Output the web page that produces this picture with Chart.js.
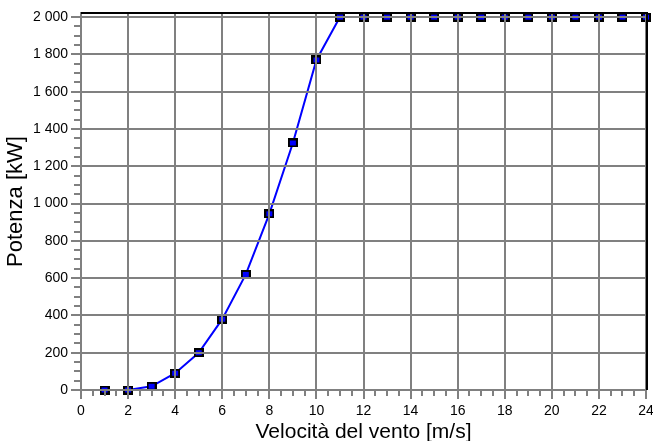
<!DOCTYPE html>
<html>
<head>
<meta charset="utf-8">
<script src="https://cdn.jsdelivr.net/npm/chart.js@4.4.1/dist/chart.umd.min.js"></script>
<style>
  html, body { margin: 0; padding: 0; background: #fff; overflow: hidden; }
  #wrap { position: relative; width: 653px; height: 441px; }
</style>
</head>
<body>
<div id="wrap"><canvas id="c"></canvas></div>
<script>
// Wind turbine power curve: output power versus wind speed
const windSpeed = [1, 2, 3, 4, 5, 6, 7, 8, 9, 10, 11, 12, 13, 14, 15, 16, 17, 18, 19, 20, 21, 22, 23, 24];
const powerKW   = [0, 0, 20, 90, 200, 380, 620, 945, 1325, 1770, 2000, 2000, 2000, 2000, 2000, 2000, 2000, 2000, 2000, 2000, 2000, 2000, 2000, 2000];

const X_MIN = 0, X_MAX = 24, X_STEP = 0.5, X_LABEL_EVERY = 2;
const Y_MIN = 0, Y_MAX = 2022, Y_STEP = 50, Y_LABEL_EVERY = 200;

const GRID = '#808080';
const FONT = '"Liberation Sans", Arial, sans-serif';

// square marker: black frame with a blue core
function makeMarker() {
  const c = document.createElement('canvas');
  c.width = 10; c.height = 9;
  const g = c.getContext('2d');
  g.fillStyle = '#000';
  g.fillRect(0, 0, 10, 9);
  g.fillStyle = '#0000ff';
  g.fillRect(2, 2, 6, 5);
  return c;
}

const isMajor = (v, every) => Math.abs(v / every - Math.round(v / every)) < 1e-6;
const thousands = v => String(Math.round(v)).replace(/\B(?=(\d{3})+(?!\d))/g, ' ');

// grid lines drawn on top of the series, then frame and tick marks
const overlay = {
  id: 'overlay',
  afterDatasetsDraw(chart) {
    const area = chart.chartArea;
    chart.scales.x.drawGrid(area);
    chart.scales.y.drawGrid(area);
  },
  afterDraw(chart) {
    const ctx = chart.ctx;
    const a = chart.chartArea;
    const xs = chart.scales.x, ys = chart.scales.y;
    ctx.save();
    ctx.strokeStyle = GRID;
    ctx.lineWidth = 2;
    ctx.beginPath();
    ys.ticks.forEach(t => {
      const p = Math.round(ys.getPixelForValue(t.value));
      const len = isMajor(t.value, Y_LABEL_EVERY) ? 10 : 7;
      ctx.moveTo(a.left - len, p);
      ctx.lineTo(a.left, p);
    });
    xs.ticks.forEach(t => {
      const p = Math.round(xs.getPixelForValue(t.value));
      const len = isMajor(t.value, X_LABEL_EVERY) ? 9 : 6;
      ctx.moveTo(p, a.bottom);
      ctx.lineTo(p, a.bottom + len);
    });
    ctx.stroke();
    // dark frame on top and right
    ctx.strokeStyle = '#000';
    ctx.lineWidth = 2;
    ctx.beginPath();
    ctx.moveTo(a.left, a.top);
    ctx.lineTo(a.right + 1, a.top);
    ctx.lineTo(a.right + 1, a.bottom);
    ctx.stroke();
    ctx.restore();
  }
};

new Chart(document.getElementById('c'), {
  type: 'line',
  data: {
    labels: windSpeed,
    datasets: [{
      data: windSpeed.map((s, i) => ({ x: s, y: powerKW[i] })),
      borderColor: '#0000ff',
      borderWidth: 2,
      tension: 0,
      pointStyle: makeMarker(),
      pointRadius: 5,
      pointHoverRadius: 5,
      clip: false
    }]
  },
  options: {
    responsive: true,
    maintainAspectRatio: false,
    animation: false,
    events: [],
    layout: { padding: { top: 13, right: 6, left: 0, bottom: 0 } },
    plugins: { legend: { display: false }, tooltip: { enabled: false } },
    scales: {
      x: {
        type: 'linear',
        min: X_MIN, max: X_MAX,
        afterFit(scale) { scale.height = 51; scale.paddingLeft = 0; scale.paddingRight = 0; },
        ticks: {
          stepSize: X_STEP,
          autoSkip: false,
          maxRotation: 0,
          padding: 3,
          color: '#000',
          font: { family: FONT, size: 14 },
          callback: v => isMajor(v, X_LABEL_EVERY) ? String(v) : ''
        },
        grid: {
          color: c => (c.tick && isMajor(c.tick.value, X_LABEL_EVERY)) ? GRID : 'rgba(0,0,0,0)',
          lineWidth: 2,
          tickLength: 10,
          tickColor: 'rgba(0,0,0,0)'
        },
        border: { display: true, color: GRID, width: 2 },
        title: {
          display: true,
          text: 'Velocità del vento [m/s]',
          color: '#000',
          font: { family: FONT, size: 21, lineHeight: 1 },
          padding: { top: 0, bottom: -2 }
        }
      },
      y: {
        min: Y_MIN, max: Y_MAX,
        afterFit(scale) { scale.width = 81; },
        ticks: {
          stepSize: Y_STEP,
          autoSkip: false,
          includeBounds: false,
          padding: 3,
          color: '#000',
          font: { family: FONT, size: 14 },
          callback: v => isMajor(v, Y_LABEL_EVERY) ? thousands(v) : ''
        },
        grid: {
          color: c => (c.tick && isMajor(c.tick.value, Y_LABEL_EVERY)) ? GRID : 'rgba(0,0,0,0)',
          lineWidth: 2,
          tickLength: 10,
          tickColor: 'rgba(0,0,0,0)'
        },
        border: { display: true, color: GRID, width: 2 },
        title: {
          display: true,
          text: 'Potenza [kW]',
          color: '#000',
          font: { family: FONT, size: 22, lineHeight: 1 },
          padding: { top: 5, bottom: 0 }
        }
      }
    }
  },
  plugins: [overlay]
});
</script>
</body>
</html>
